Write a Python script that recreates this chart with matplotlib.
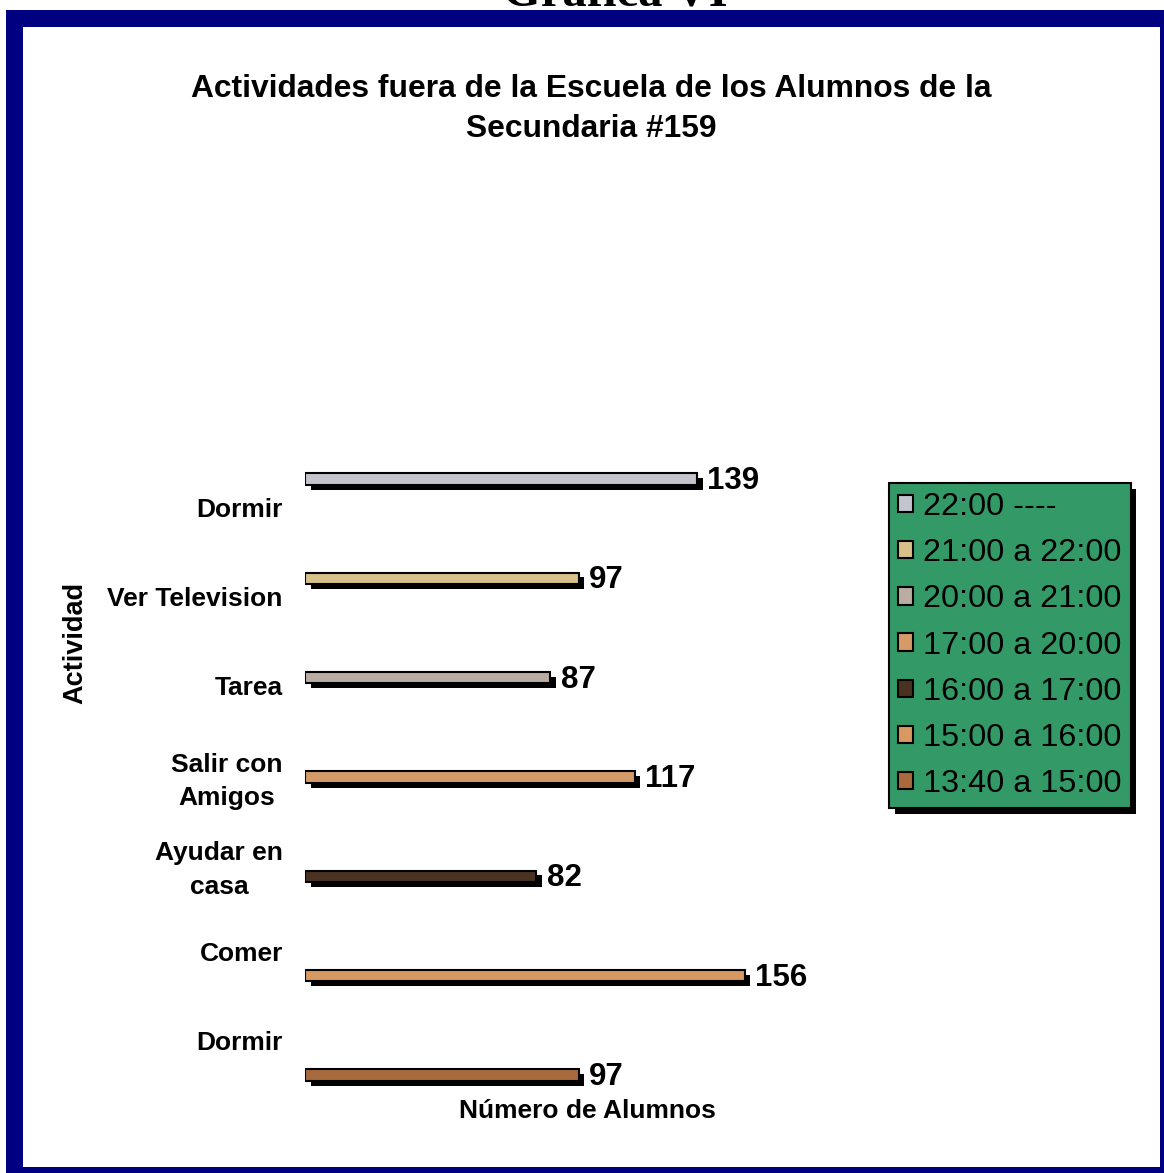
import matplotlib
matplotlib.use("Agg")
import matplotlib.pyplot as plt
from matplotlib.patches import Rectangle, Patch
import matplotlib.patheffects as pe

plt.rcParams['font.family'] = ['Liberation Sans', 'DejaVu Sans']

# ---- data ----
categories = ['Dormir', 'Ver Television', 'Tarea', 'Salir con\nAmigos',
              'Ayudar en\ncasa', 'Comer', 'Dormir']
values = [139, 97, 87, 117, 82, 156, 97]
series = ['22:00 ----', '21:00 a 22:00', '20:00 a 21:00', '17:00 a 20:00',
          '16:00 a 17:00', '15:00 a 16:00', '13:40 a 15:00']
colors = ['#c4c4cc', '#d8c089', '#b9aca3', '#d49a68', '#4a3222', '#d89862', '#a86a3c']

title = 'Actividades fuera de la Escuela de los Alumnos de la\nSecundaria #159'
top_title = 'Grafica VI'
xlabel = 'Número de Alumnos'
ylabel = 'Actividad'

W, H = 1164, 1173
fig = plt.figure(figsize=(W / 100, H / 100), dpi=100)

def fx(px):
    return px / W

def fy(py):
    return 1 - py / H

# navy frame
fig.patches.append(Rectangle((fx(6), 0), 1, fy(10), transform=fig.transFigure,
                             facecolor='#000080', edgecolor='none', zorder=-2))
fig.patches.append(Rectangle((fx(23), fy(1167)), fx(1160) - fx(23), fy(27) - fy(1167),
                             transform=fig.transFigure, facecolor='white',
                             edgecolor='none', zorder=-1))

fig.text(fx(615), fy(5), top_title, ha='center', va='baseline',
         fontsize=35, fontweight='bold', family='Liberation Serif')

# main axes with bars
ax = fig.add_axes([fx(305), fy(429.3 + 695.4), fx(305 + 2.82 * 180) - fx(305), 695.4 / H])
ax.patch.set_alpha(0)
ypos = list(range(len(categories)))
shadow = [pe.SimplePatchShadow(offset=(4, -3.5), shadow_rgbFace='black', alpha=1.0), pe.Normal()]
for i, (v, s, c) in enumerate(zip(values, series, colors)):
    b = ax.barh(ypos[i], v, height=0.115, color=c, edgecolor='black', linewidth=1.5,
                label=s, zorder=3)
    for p in b:
        p.set_path_effects(shadow)
    ax.annotate(str(v), xy=(v, ypos[i]), xytext=(7.5, -1.5), textcoords='offset points',
                ha='left', va='center', fontsize=22.5, fontweight='bold')
ax.set_xlim(0, 180)
ax.set_ylim(6.5, -0.5)
ax.set_xticks([])
ax.set_yticks([])
for sp in ax.spines.values():
    sp.set_visible(False)

# category label axis
lax = fig.add_axes([fx(305), fy(1085), 0.05, (1085 - 463) / H])
lax.patch.set_alpha(0)
lax.set_ylim(6.5, -0.5)
lax.set_yticks(ypos)
lax.set_yticklabels(categories, fontsize=19, fontweight='bold', multialignment='center',
                    linespacing=1.5)
lax.tick_params(axis='y', length=0, pad=16)
lax.set_xticks([])
for sp in lax.spines.values():
    sp.set_visible(False)

fig.text(fx(591), fy(109), title, ha='center', va='center', fontsize=22.9,
         fontweight='bold', linespacing=1.4)
fig.text(fx(75), fy(643), ylabel, rotation=90, ha='center', va='center',
         fontsize=19.5, fontweight='bold')
fig.text(fx(587), fy(1111), xlabel, ha='center', va='center', fontsize=19,
         fontweight='bold')

handles = [Patch(facecolor=c, edgecolor='black', linewidth=1.5) for c in colors]
leg = fig.legend(handles, series, loc='upper left', bbox_to_anchor=(fx(889), fy(483)),
                 borderaxespad=0, fontsize=23.3, frameon=True, fancybox=False,
                 facecolor='#339966', edgecolor='black', framealpha=1,
                 handlelength=0.45, handleheight=0.45, handletextpad=0.33,
                 labelspacing=0.5, borderpad=0.28)
leg.get_frame().set_linewidth(1.5)
leg.get_frame().set_path_effects([pe.SimplePatchShadow(offset=(4, -4), shadow_rgbFace='black', alpha=1.0), pe.Normal()])

fig.savefig('out.png', dpi=100)
